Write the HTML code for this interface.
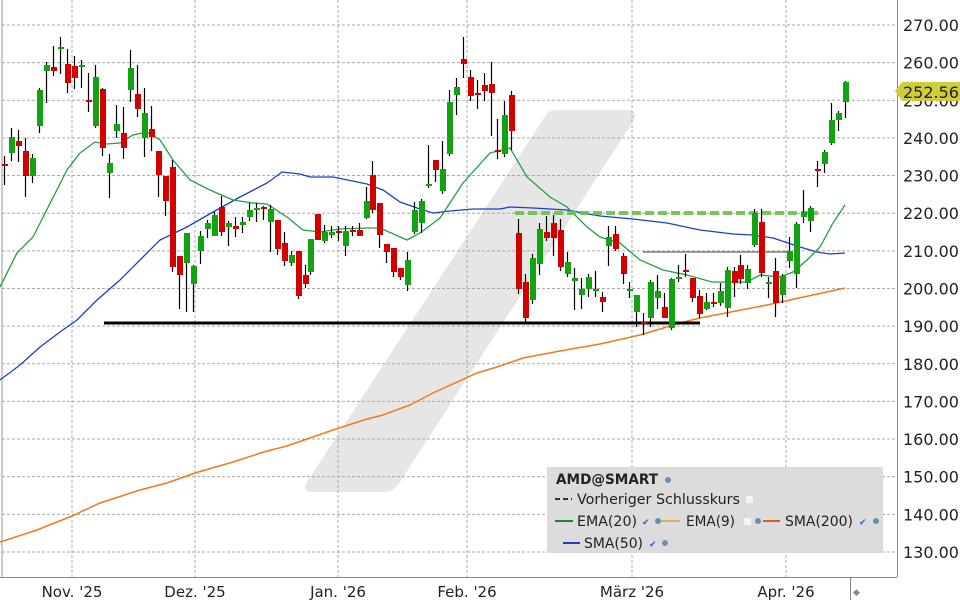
<!DOCTYPE html>
<html><head><meta charset="utf-8"><style>
html,body{margin:0;padding:0;background:#fff;}
svg{display:block;font-family:"DejaVu Sans","Liberation Sans",sans-serif;}
</style></head><body>
<svg id="s" width="960" height="600" viewBox="0 0 960 600" xmlns="http://www.w3.org/2000/svg">
<rect width="960" height="600" fill="#fff"/>
<path d="M548,112 Q552,110 560,110 L628,110 Q638,110 634,120 L400,482 Q394,492 384,492 L312,492 Q302,492 307,482 Z" fill="#e6e6e6"/>
<g id="grid" stroke="#aaa" stroke-width="1" stroke-dasharray="3,2"></g>
<line x1="2" y1="0" x2="2" y2="577" stroke="#999"/>
<line x1="897.5" y1="0" x2="897.5" y2="577" stroke="#888"/>
<line x1="0" y1="577.5" x2="897" y2="577.5" stroke="#888"/>
<line x1="850.5" y1="577" x2="850.5" y2="600" stroke="#888"/>
<text x="853" y="595" font-size="9" fill="#888">◆</text>
<g id="ylab" font-size="16" fill="#222"></g>
<g font-size="15" fill="#222" text-anchor="middle">
<text x="72" y="597">Nov. '25</text>
<text x="195" y="597">Dez. '25</text>
<text x="338" y="597">Jan. '26</text>
<text x="467" y="597">Feb. '26</text>
<text x="632" y="597">März '26</text>
<text x="786" y="597">Apr. '26</text>
</g>
<polyline fill="none" stroke="#f07a1e" stroke-width="1.5" points="0,542 37,530 72,516 100,503 140,490 167,483 195,473 233,462 267,451 287,446 333,430 367,419 383,415 410,405 433,393 477,373 497,367 523,358 560,351 600,344 640,335 680,323 700,318 767,305 845,288"/>
<polyline fill="none" stroke="#1a3fd0" stroke-width="1.3" points="0,380 20,365 40,347 60,332 77,320 97,300 120,280 140,260 160,240 187,227 213,212 240,197 267,183 282,172 300,174 310,177 333,177 367,184 383,190 400,202 417,208 433,213 450,211 473,209 500,209 510,207 533,208 567,210 600,216 633,219 667,223 700,230 733,234 753,235 773,238 800,247 817,252 830,254 845,253"/>
<polyline fill="none" stroke="#22a040" stroke-width="1.3" points="0,287 17,253 33,237 67,170 80,153 95,142 107,144 120,143 133,135 147,132 160,140 173,160 190,180 210,190 233,200 253,203 267,204 287,217 303,230 320,232 340,229 367,228 380,228 407,240 420,233 440,218 463,183 490,153 510,148 527,177 550,197 567,207 587,227 600,237 620,243 640,260 663,270 687,275 712,282 747,282 760,275 780,277 793,272 807,260 820,247 833,223 845,205"/>
<line x1="104" y1="323" x2="700" y2="323" stroke="#000" stroke-width="3"/>
<line x1="643" y1="252" x2="787" y2="252" stroke="#444" stroke-width="1"/>
<line x1="515" y1="213" x2="818" y2="213" stroke="#6cc24a" stroke-width="4" stroke-dasharray="9,4" opacity="0.9"/>
<g id="c"></g>
<path d="M895,91 L902,82 L960,82 L960,101 L902,101 Z" fill="#cfcd3c"/>
<text x="903" y="98" font-size="16" fill="#222">252.56</text>
<rect x="547" y="467" width="336" height="86" fill="#dcdcdc"/>
<g font-size="14.3" fill="#222">
<text x="556" y="484" font-weight="bold" textLength="102" lengthAdjust="spacingAndGlyphs">AMD@SMART</text><circle cx="668" cy="480" r="3" fill="#6a8fb0"/>
<line x1="555" y1="499" x2="572" y2="499" stroke="#333" stroke-width="2" stroke-dasharray="5,3"/>
<text x="577" y="504" textLength="163" lengthAdjust="spacingAndGlyphs">Vorheriger Schlusskurs</text><rect x="746" y="496" width="7" height="7" fill="#f4f4f8"/>
<line x1="555" y1="521" x2="573" y2="521" stroke="#1a8a30" stroke-width="2"/>
<text x="577" y="526" textLength="60" lengthAdjust="spacingAndGlyphs">EMA(20)</text><text x="642" y="525" font-size="9" fill="#2266dd">✔</text><circle cx="658" cy="521" r="3" fill="#6a8fb0"/>
<line x1="661" y1="521" x2="680" y2="521" stroke="#e0b050" stroke-width="2"/>
<text x="686" y="526" textLength="49" lengthAdjust="spacingAndGlyphs">EMA(9)</text><rect x="744" y="518" width="7" height="7" fill="#f4f4f8"/><circle cx="758" cy="521" r="3" fill="#6a8fb0"/>
<line x1="763" y1="521" x2="780" y2="521" stroke="#e05a1a" stroke-width="2"/>
<text x="785" y="526" textLength="68" lengthAdjust="spacingAndGlyphs">SMA(200)</text><text x="859" y="525" font-size="9" fill="#2266dd">✔</text><circle cx="876" cy="521" r="3" fill="#6a8fb0"/>
<line x1="563" y1="543" x2="580" y2="543" stroke="#1a3fd0" stroke-width="2"/>
<text x="584" y="548" textLength="59" lengthAdjust="spacingAndGlyphs">SMA(50)</text><text x="649" y="547" font-size="9" fill="#2266dd">✔</text><circle cx="665" cy="543" r="3" fill="#6a8fb0"/>
</g>
</svg>
<script>
var NS="http://www.w3.org/2000/svg";
function el(p,t,a){var e=document.createElementNS(NS,t);for(var k in a)e.setAttribute(k,a[k]);p.appendChild(e);return e;}
var g=document.getElementById("grid"),yl=document.getElementById("ylab");
for(var k=0;k<=14;k++){var y=25+k*37.64;el(g,"line",{x1:2,x2:897,y1:y,y2:y});var t=el(yl,"text",{x:903,y:y+6});t.textContent=(270-10*k).toFixed(2);}
[72,195,338,467,632,786].forEach(function(x){el(g,"line",{x1:x,x2:x,y1:0,y2:577});});
var C=[[4,164,166,156,185,'r'],[11,137,153,128,161,'g'],[18,141,146,130,162,'r'],[25,151,176,138,197,'r'],[32,158,176,154,183,'g'],[39,90,126,88,133,'g'],[46,65,71,62,103,'g'],[53,67,71,46,76,'r'],[60,47,49,37,74,'g'],[67,64,83,49,93,'r'],[74,66,78,56,89,'r'],[81,65,67,60,88,'g'],[88,100,102,73,112,'r'],[95,77,126,65,128,'g'],[102,89,148,88,156,'r'],[109,163,173,154,198,'g'],[116,124,131,105,138,'g'],[123,133,148,107,159,'r'],[130,68,90,50,102,'g'],[137,94,109,65,117,'r'],[144,113,138,88,157,'g'],[151,129,137,106,151,'r'],[158,151,175,151,197,'r'],[165,176,201,176,216,'r'],[172,167,267,160,272,'r'],[179,256,275,256,309,'r'],[186,233,263,233,312,'g'],[193,266,284,265,312,'g'],[200,236,251,231,264,'g'],[207,223,229,220,238,'g'],[214,215,236,212,236,'g'],[221,207,232,196,236,'r'],[228,223,227,221,246,'g'],[235,226,229,217,237,'r'],[242,222,225,217,233,'g'],[249,210,217,203,221,'g'],[256,208,210,203,222,'g'],[263,207,209,206,220,'r'],[270,209,222,205,252,'g'],[277,220,249,220,255,'r'],[284,243,261,232,266,'r'],[291,255,263,251,266,'g'],[298,251,296,251,299,'r'],[305,275,284,265,288,'r'],[310,239,272,239,275,'g'],[317,214,240,214,240,'r'],[324,232,241,225,243,'g'],[331,232,235,226,238,'g'],[338,231,233,226,241,'r'],[345,231,246,226,256,'g'],[352,230,232,226,236,'r'],[359,230,236,223,236,'r'],[366,201,218,187,219,'g'],[372,175,210,161,213,'r'],[379,203,235,203,248,'r'],[386,244,252,244,263,'r'],[393,248,272,248,277,'r'],[400,268,277,268,280,'r'],[407,260,285,252,291,'g'],[414,210,232,202,234,'g'],[421,201,223,199,233,'g'],[428,184,186,145,188,'g'],[435,160,170,160,182,'r'],[442,169,191,141,194,'g'],[449,102,154,90,156,'g'],[456,87,95,78,115,'g'],[463,59,64,37,78,'r'],[470,77,96,70,101,'r'],[477,93,95,80,109,'r'],[484,85,91,73,101,'r'],[491,84,93,62,136,'r'],[497,150,152,119,159,'r'],[504,115,154,101,157,'g'],[511,95,131,91,150,'r'],[518,233,289,219,294,'r'],[525,282,318,274,322,'r'],[532,258,300,254,304,'g'],[539,229,264,223,275,'g'],[546,232,238,216,241,'r'],[553,223,238,215,256,'r'],[560,230,267,219,271,'r'],[567,262,274,252,277,'g'],[574,278,281,268,310,'g'],[581,289,295,278,309,'g'],[588,277,289,274,297,'g'],[595,289,291,271,297,'g'],[602,297,302,292,312,'r'],[608,237,246,226,266,'g'],[615,234,249,226,251,'r'],[623,256,274,253,284,'r'],[629,289,291,282,298,'g'],[636,295,312,295,327,'g'],[643,322,324,313,335,'r'],[650,282,318,280,327,'g'],[657,291,298,275,309,'g'],[664,307,318,293,318,'r'],[671,279,328,278,330,'g'],[678,277,279,265,282,'g'],[685,270,272,254,277,'r'],[692,278,298,278,302,'r'],[699,296,314,290,318,'r'],[706,302,309,293,310,'g'],[713,302,304,293,307,'r'],[720,291,303,283,306,'g'],[727,270,308,267,317,'g'],[734,271,283,267,297,'r'],[740,265,279,255,284,'r'],[747,269,283,265,289,'g'],[754,213,245,209,247,'g'],[761,222,273,209,277,'r'],[768,282,284,277,298,'g'],[775,271,303,258,317,'r'],[782,276,295,274,303,'g'],[789,251,261,237,268,'g'],[796,224,274,222,288,'g'],[803,212,217,190,223,'g'],[810,208,221,206,232,'g'],[817,169,171,161,187,'r'],[824,152,164,150,173,'g'],[831,120,143,103,145,'g'],[838,113,120,111,131,'g'],[845,82,102,81,118,'g']];
var cg=document.getElementById("c");
C.forEach(function(d){
 el(cg,"line",{x1:d[0]+0.5,x2:d[0]+0.5,y1:d[3],y2:d[4],stroke:"#000","stroke-width":1.2});
 var h=Math.max(2,d[2]-d[1]);
 el(cg,"rect",{x:d[0]-2,y:d[1],width:6,height:h,fill:d[5]=='g'?'#12a312':'#d40000'});
});
</script>
</body></html>
